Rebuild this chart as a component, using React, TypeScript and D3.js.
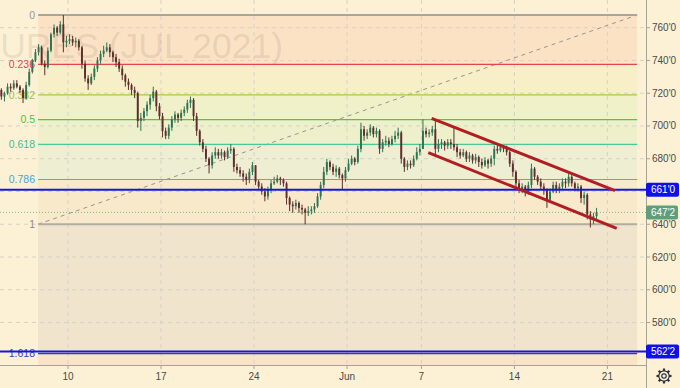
import React from 'react';
import * as d3 from 'd3';

// trading sessions from May 4 to Jun 18, 6 bars per session
const barsPerDay = 6;
const firstOpen = 719;

const highs = [
  722, 724, 723, 721, 726, 726,
  728, 728, 725, 723, 727, 735,
  741, 747, 750, 749, 740, 748,
  757, 762, 761, 764, 767.75, 755,
  756, 755, 754, 753, 749, 740,
  731, 732, 737, 742, 746, 749,
  751, 750, 746, 744, 741, 737,
  732, 729, 726, 724, 721, 708,
  711, 715, 719, 724, 722, 714,
  708, 699, 701, 706, 709, 708,
  710, 712, 716, 718, 717, 708,
  698, 692, 688, 681, 684, 687,
  686, 686, 685, 687, 689, 687,
  677, 675, 673, 671, 674, 678,
  676, 667, 665, 662, 663, 667,
  669, 670, 669, 668, 666, 657,
  654, 655, 654, 652, 650, 651,
  651, 653, 659, 666, 675, 680,
  679, 677, 676, 675, 671, 675,
  680, 682, 681, 688, 702, 700,
  698, 701, 700, 699, 698, 692,
  694, 693, 694, 697, 699, 697,
  681, 679, 679, 682, 687, 689,
  704, 699, 698, 700, 703, 692,
  692, 691, 692, 692, 699, 689,
  686, 686, 685, 684, 683, 683,
  682, 680, 681, 680, 682, 688,
  688, 689, 688, 688, 685, 679,
  673, 667, 665, 664, 666, 677,
  675, 670, 668, 665, 662, 662,
  666, 666, 665, 668, 668, 672,
  670, 666, 665, 664, 660, 659,
  648, 647, 650,
];

const lows = [
  716, 719, 716, 715, 719, 721,
  722, 723, 720, 714, 716, 724,
  732, 739, 743, 737, 731, 735,
  745, 754, 755, 756, 745, 748,
  750, 749, 748, 746, 735, 727,
  722, 725, 728, 733, 738, 742,
  745, 742, 739, 736, 733, 728,
  724, 722, 719, 717, 699, 697,
  703, 706, 710, 715, 709, 704,
  693, 692, 692, 697, 702, 702,
  703, 706, 708, 711, 703, 694,
  688, 684, 678, 671, 674, 680,
  680, 680, 679, 680, 683, 672,
  671, 669, 666, 664, 665, 670,
  664, 661, 658, 654, 655, 659,
  664, 665, 664, 663, 652, 648,
  647, 649, 647, 646, 640, 645,
  646, 647, 650, 655, 662, 670,
  673, 670, 669, 668, 661, 666,
  672, 676, 676, 677, 684, 691,
  692, 694, 693, 693, 683, 684,
  688, 687, 688, 690, 692, 677,
  672, 673, 674, 675, 679, 682,
  686, 693, 693, 694, 681, 684,
  686, 685, 686, 686, 685, 681,
  680, 681, 678, 678, 677, 677,
  675, 674, 675, 674, 675, 676,
  683, 684, 684, 682, 675, 669,
  662, 659, 659, 657, 658, 662,
  667, 664, 661, 658, 650, 653,
  659, 659, 659, 661, 662, 663,
  663, 660, 660, 653, 652, 643,
  638, 640, 643,
];

const closes = [
  720, 722, 718, 720, 724, 723,
  726, 724, 722, 717, 725, 733,
  740, 745, 748, 738, 736, 746,
  756, 760, 757, 762, 751, 752,
  753, 751, 752, 748, 738, 729,
  726, 730, 735, 740, 744, 746,
  748, 745, 742, 739, 735, 731,
  727, 725, 722, 720, 703, 705,
  709, 713, 717, 721, 712, 706,
  697, 694, 699, 704, 707, 705,
  708, 710, 714, 716, 706, 697,
  690, 686, 680, 676, 682, 684,
  682, 684, 681, 685, 686, 675,
  673, 671, 669, 667, 672, 676,
  666, 663, 660, 657, 661, 665,
  666, 668, 667, 665, 656, 652,
  651, 653, 650, 649, 647, 648,
  649, 651, 657, 664, 672, 678,
  675, 672, 674, 670, 668, 673,
  677, 680, 678, 686, 698, 694,
  696, 699, 695, 697, 686, 690,
  691, 689, 692, 694, 696, 680,
  675, 677, 676, 680, 684, 686,
  697, 695, 696, 698, 686, 689,
  690, 688, 690, 689, 687, 684,
  682, 684, 680, 682, 679, 681,
  678, 676, 679, 677, 680, 686,
  685, 687, 686, 684, 677, 672,
  665, 661, 663, 660, 664, 674,
  669, 666, 663, 661, 655, 660,
  664, 661, 663, 666, 665, 669,
  665, 662, 663, 656, 658, 646,
  643, 645, 647.25,
];

const tickDays = [4, 9, 14, 19, 23, 28, 33];
const tickLabels = ['10', '17', '24', 'Jun', '7', '14', '21'];
const priceTicks = [760, 740, 720, 700, 680, 640, 620, 600, 580];
const gridPrices = [760, 740, 720, 700, 680, 660, 640, 620, 600, 580];

// fibonacci retracement drawn from the May 26 low to the May 7 high
const fibLow = 640;
const fibHigh = 767.75;
const fibFromDay = 2.39;
const fibToDay = 34.6;
const fibLevels = [0, 0.236, 0.382, 0.5, 0.618, 0.786, 1, 1.618];
const fibLineColors = ['#aaa49a', '#e0474c', '#a5c84a', '#46cc46', '#4cc79a', '#4aaed8', '#b3aca2', '#2b3ad0'];
const fibTextColors = ['#9a958d', '#e0474c', '#a2c040', '#3ec83e', '#3cc08a', '#45a3d6', '#8f8a82', '#3040c0'];
const fibFills = ['#fbe2c5', '#f6efc7', '#f0f0c9', '#eef0cc', '#eeeed2', '#f8e9cb', '#f0e4cc', '#fbe3c6'];

const channelUpper = [[23.55, 704.7], [33.41, 660.5]];
const channelLower = [[23.37, 683.7], [33.5, 637.5]];
const blueLevels = [661, 562.25];
const lastPrice = 647.25;

const W = 680;
const H = 388;
const plotW = 646;
const plotH = 365;

const fmt = (p: number) => `${Math.floor(p)}'${Math.round((p - Math.floor(p)) * 8)}`;

const Gear = ({ cx, cy }: { cx: number; cy: number }) => {
  const teeth = d3.range(8).map((i) => (i * 360) / 8);
  return (
    <g transform={`translate(${cx},${cy})`} stroke="#2a2e39" fill="none" strokeWidth={1.2}>
      {teeth.map((a) => (
        <line key={a} x1={0} y1={-5} x2={0} y2={-7.5} transform={`rotate(${a})`} strokeWidth={2.2} />
      ))}
      <circle r={5.2} fill="#fdf1d5" />
      <circle r={2.2} />
    </g>
  );
};

export default function App() {
  const x = d3.scaleLinear().domain([0, 33]).range([-6.4, 607.4]);
  const y = d3.scaleLinear().domain([560, 760]).range([355.3, 27.7]);

  const bw = ((x(1) - x(0)) / barsPerDay) * 0.62;
  const bars = closes.map((c, i) => {
    const day = Math.floor(i / barsPerDay) + ((i % barsPerDay) + 0.5) / barsPerDay;
    const o = i === 0 ? firstOpen : closes[i - 1];
    return { cx: x(day), o, c, h: highs[i], l: lows[i] };
  });

  const fibPrice = (lv: number) => fibHigh - lv * (fibHigh - fibLow);
  const fx0 = x(fibFromDay);
  const fx1 = x(fibToDay);
  const line = d3.line<number[]>().x((d) => x(d[0])).y((d) => y(d[1]));

  const font = '"Liberation Sans", Arial, sans-serif';

  return (
    <svg width={W} height={H} style={{ position: 'fixed', left: 0, top: 0 }} fontFamily={font}>
      <defs>
        <clipPath id="plot">
          <rect x={0} y={0} width={plotW} height={plotH} />
        </clipPath>
      </defs>
      <rect width={W} height={H} fill="#fdf1d5" />

      <g clipPath="url(#plot)">
        {/* fib zones */}
        {fibLevels.map((lv, i) => {
          const top = y(fibPrice(lv));
          const bottom = i < fibLevels.length - 1 ? y(fibPrice(fibLevels[i + 1])) : plotH;
          return <rect key={lv} x={fx0} y={top} width={fx1 - fx0} height={bottom - top} fill={fibFills[i]} />;
        })}

        {/* grid */}
        {gridPrices.map((p) => (
          <line key={p} x1={0} x2={plotW} y1={y(p)} y2={y(p)} stroke="#d6d2c8" strokeDasharray="4,4" strokeWidth={1} />
        ))}
        {tickDays.map((d) => (
          <line key={d} x1={x(d)} x2={x(d)} y1={0} y2={plotH} stroke="#d6d2c8" strokeDasharray="4,4" strokeWidth={1} />
        ))}

        {/* watermark */}
        <text x={283} y={58} textAnchor="end" fontSize={35.5} fill="#7a6048" fillOpacity={0.14}>
          WHEAT FUTURES (JUL 2021)
        </text>

        {/* fib lines */}
        <line x1={fx0} y1={y(fibLow)} x2={fx1} y2={y(fibHigh)} stroke="#9a958d" strokeDasharray="4,4" strokeWidth={1} />
        {fibLevels.map((lv, i) => (
          <line
            key={lv}
            x1={fx0}
            x2={fx1}
            y1={y(fibPrice(lv))}
            y2={y(fibPrice(lv))}
            stroke={fibLineColors[i]}
            strokeWidth={lv === 0 || lv === 1 ? 2 : 1.2}
          />
        ))}
        {fibLevels.map((lv, i) => (
          <text
            key={lv}
            x={fx0 - 3}
            y={y(fibPrice(lv))}
            dy="0.35em"
            textAnchor="end"
            fontSize={10.5}
            fill={fibTextColors[i]}
          >
            {String(lv)}
          </text>
        ))}

        {/* candles */}
        {bars.map((b, i) => {
          const col = b.c >= b.o ? '#2f7350' : '#5e2e2c';
          const top = y(Math.max(b.o, b.c));
          const bot = y(Math.min(b.o, b.c));
          return (
            <g key={i}>
              <line x1={b.cx} x2={b.cx} y1={y(b.h)} y2={y(b.l)} stroke={col} strokeWidth={1} />
              <rect x={b.cx - bw / 2} y={top} width={bw} height={Math.max(1, bot - top)} fill={col} />
            </g>
          );
        })}

        {/* last price */}
        <line x1={0} x2={plotW} y1={y(lastPrice)} y2={y(lastPrice)} stroke="#7fb88f" strokeDasharray="1,2" strokeWidth={1} />

        {/* horizontal levels */}
        {blueLevels.map((p) => (
          <line key={p} x1={0} x2={plotW} y1={y(p)} y2={y(p)} stroke="#1414e6" strokeWidth={2} />
        ))}

        {/* channel */}
        <path d={line(channelUpper) || ''} stroke="#b01e22" strokeWidth={3} fill="none" />
        <path d={line(channelLower) || ''} stroke="#b01e22" strokeWidth={3} fill="none" />
      </g>

      {/* axes */}
      <line x1={plotW + 0.5} x2={plotW + 0.5} y1={0} y2={H} stroke="#a8a298" />
      <line x1={0} x2={plotW} y1={plotH + 0.5} y2={plotH + 0.5} stroke="#a8a298" />
      {priceTicks.map((p) => (
        <g key={p}>
          <line x1={plotW} x2={plotW + 4} y1={y(p)} y2={y(p)} stroke="#a8a298" />
          <text x={plotW + 6} y={y(p)} dy="0.35em" fontSize={10} fill="#4a4a4a">
            {fmt(p)}
          </text>
        </g>
      ))}
      {tickDays.map((d, i) => (
        <g key={d}>
          <line x1={x(d)} x2={x(d)} y1={plotH} y2={plotH + 4} stroke="#a8a298" />
          <text x={x(d)} y={plotH + 15} textAnchor="middle" fontSize={10} fill="#4a4a4a">
            {tickLabels[i]}
          </text>
        </g>
      ))}

      {/* price labels */}
      {blueLevels.map((p) => (
        <g key={p}>
          <rect x={plotW} y={y(p) - 7} width={33} height={14} rx={2} fill="#1010ee" />
          <text x={plotW + 5} y={y(p)} dy="0.35em" fontSize={10} fill="#fff">
            {fmt(p)}
          </text>
        </g>
      ))}
      <rect x={plotW} y={y(lastPrice) - 7} width={32} height={14} rx={2} fill="#5e9e7a" />
      <text x={plotW + 5} y={y(lastPrice)} dy="0.35em" fontSize={10} fill="#fff">
        {fmt(lastPrice)}
      </text>

      <Gear cx={664} cy={376} />
    </svg>
  );
}
